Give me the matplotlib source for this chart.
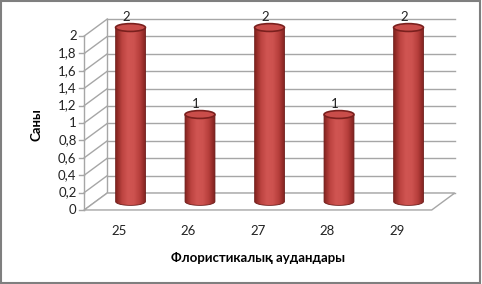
import numpy as np
import matplotlib
matplotlib.use('Agg')
import matplotlib.pyplot as plt
from matplotlib.patches import Ellipse, Polygon, Rectangle
from matplotlib.colors import LinearSegmentedColormap

plt.rcParams['font.family'] = ['Lato', 'DejaVu Sans']

# данные
categories = ['25', '26', '27', '28', '29']
values = [2, 1, 2, 1, 2]
yticks = [0, 0.2, 0.4, 0.6, 0.8, 1.0, 1.2, 1.4, 1.6, 1.8, 2.0]
ytick_labels = ['0', '0,2', '0,4', '0,6', '0,8', '1', '1,2', '1,4', '1,6', '1,8', '2']
xlabel = 'Флористикалық аудандары'
ylabel = 'Саны'

# oblique "3D" settings (data units)
dx, dy = 0.331, 0.195      # depth offset
cw, ch = 0.43, 0.09        # cylinder width, ellipse height
grid_col = '#a6a6a6'
fs = 9.5

fig = plt.figure(figsize=(4.82, 2.84), dpi=100)
ax = fig.add_axes([0, 0, 1, 1])
ax.set_xlim(-1.712, 5.223)
ax.set_ylim(-0.851, 2.414)
ax.axis('off')

x0, x1 = -0.5, len(categories) - 0.5

# back wall gridlines + left wall diagonals
for v, lab in zip(yticks, ytick_labels):
    ax.plot([x0 + dx, x1 + dx], [v + dy, v + dy], color=grid_col, lw=1.0, zorder=1)
    ax.plot([x0, x0 + dx], [v, v + dy], color=grid_col, lw=1.0, zorder=1)
    ax.plot([x0 - 0.07, x0], [v, v], color=grid_col, lw=1.0, zorder=1)
    ax.text(x0 - 0.11, v, lab, ha='right', va='center', fontsize=fs, color='#222222')
ax.plot([x0, x0], [0, yticks[-1]], color=grid_col, lw=1.0, zorder=1)
ax.plot([x0 + dx, x0 + dx], [dy, yticks[-1] + dy], color=grid_col, lw=1.0, zorder=1)

# floor
floor = Polygon([[x0, 0], [x1, 0], [x1 + dx, dy], [x0 + dx, dy]], closed=True,
                facecolor='white', edgecolor=grid_col, lw=1.0, zorder=1)
ax.add_patch(floor)

# cylinders
cmap = LinearSegmentedColormap.from_list('cyl', ['#85241f', '#bd4441', '#d05552',
                                                 '#cd524f', '#b73f3c', '#80221f'])
grad = np.linspace(0, 1, 64).reshape(1, -1)
for i, v in enumerate(values):
    cx = i + dx / 2
    base = dy / 2
    top = v + dy / 2
    t = np.linspace(np.pi, 2 * np.pi, 40)
    arc = np.column_stack([cx + cw / 2 * np.cos(t), base + ch / 2 * np.sin(t)])
    verts = np.vstack([[[cx - cw / 2, top]], arc, [[cx + cw / 2, top]], [[cx - cw / 2, top]]])
    body = Polygon(verts, closed=True, facecolor='none', edgecolor='#6e1c1a', lw=0.6, zorder=3)
    ax.add_patch(body)
    im = ax.imshow(grad, cmap=cmap, aspect='auto', zorder=2,
                   extent=[cx - cw / 2, cx + cw / 2, base - ch / 2, top])
    im.set_clip_path(body)
    lid = Ellipse((cx, top), cw, ch, facecolor='#c94d4a', edgecolor='#7a201e', lw=1.2, zorder=4)
    ax.add_patch(lid)
    ax.text(i + 0.1, top + ch / 2 + 0.01, str(v), ha='center', va='bottom',
            fontsize=fs, color='#222222')

# category labels
for i, c in enumerate(categories):
    ax.text(i, -0.24, c, ha='center', va='center', fontsize=fs, color='#222222')

ax.text(2.0, -0.55, xlabel, ha='center', va='center', fontsize=fs, fontweight='bold')
ax.text(-1.18, 0.98, ylabel, ha='center', va='center', fontsize=fs, fontweight='bold',
        rotation=90)

# frame around the chart
fig.add_artist(Rectangle((0.002, 0.004), 0.994, 0.992, transform=fig.transFigure,
                         fill=False, edgecolor='#7f7f7f', lw=1.5))

fig.savefig('out.png', dpi=100)
